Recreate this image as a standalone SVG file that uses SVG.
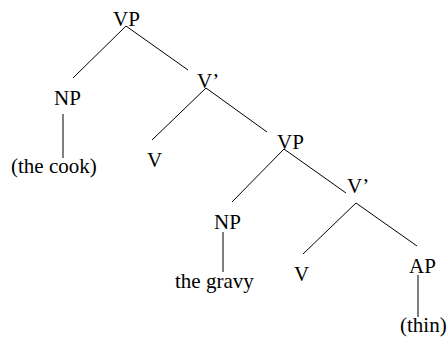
<svg xmlns="http://www.w3.org/2000/svg" width="447" height="337" viewBox="0 0 447 337">
<style>
text { font-family: "Liberation Serif", "Times New Roman", serif; font-size: 21px; fill: #000; }
.e { stroke: #000; stroke-width: 1; fill: none; }
</style>
<rect width="447" height="337" fill="#fff"/>
<g id="connectors">
  <line class="e" x1="126" y1="26" x2="73" y2="78"/>
  <line class="e" x1="126" y1="26" x2="188" y2="70"/>
  <line class="e" x1="63" y1="114" x2="63" y2="158"/>
  <line class="e" x1="206" y1="88" x2="152" y2="140"/>
  <line class="e" x1="206" y1="88" x2="267" y2="132"/>
  <line class="e" x1="284" y1="149" x2="232" y2="202"/>
  <line class="e" x1="284" y1="149" x2="346" y2="193"/>
  <line class="e" x1="223" y1="232" x2="223" y2="272"/>
  <line class="e" x1="356" y1="203" x2="303" y2="254"/>
  <line class="e" x1="356" y1="203" x2="417" y2="246"/>
  <line class="e" x1="418" y1="275" x2="418" y2="317"/>
</g>
<g id="vp1"><text x="113" y="26">VP</text></g>
<g id="np1"><text x="54" y="105">NP</text></g>
<g id="cook"><text x="11" y="173">(the cook)</text></g>
<g id="vbar1"><text x="197" y="88">V’</text></g>
<g id="v1"><text x="147" y="167">V</text></g>
<g id="vp2"><text x="277" y="149">VP</text></g>
<g id="np2"><text x="214" y="229">NP</text></g>
<g id="gravy"><text x="175" y="288">the gravy</text></g>
<g id="vbar2"><text x="347" y="193">V’</text></g>
<g id="v2"><text x="294" y="281">V</text></g>
<g id="ap"><text x="409" y="273">AP</text></g>
<g id="thin"><text x="400" y="332">(thin)</text></g>
</svg>
